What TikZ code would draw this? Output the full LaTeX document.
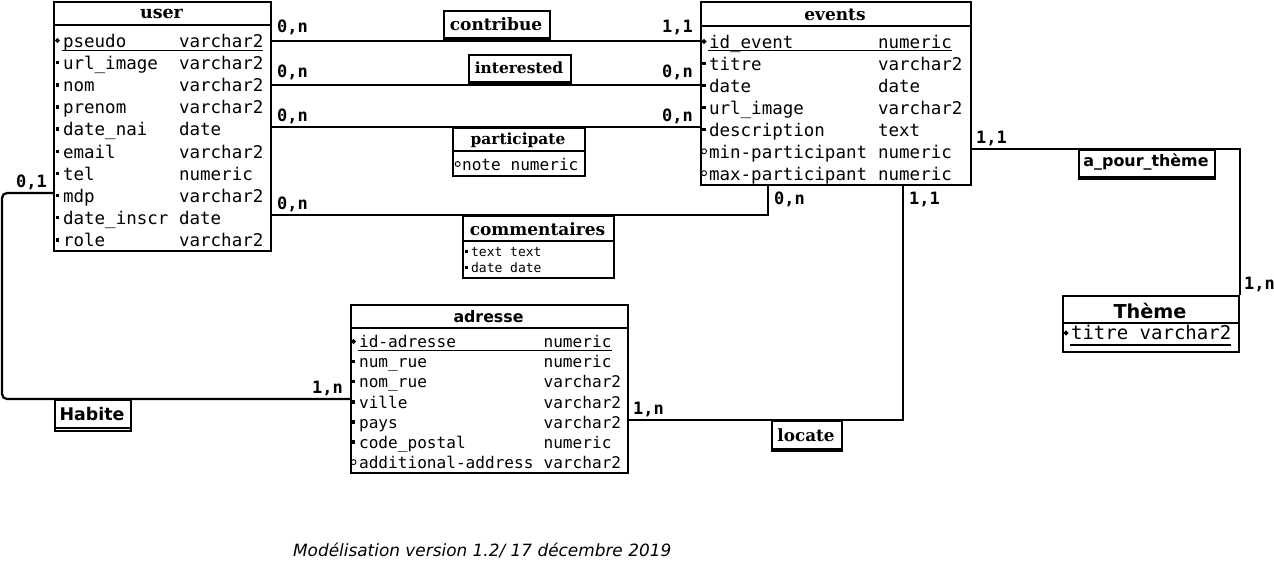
\documentclass[tikz,border=0pt]{standalone}
\usepackage{fontspec}
\setmainfont{DejaVu Serif}
\newfontfamily\monof{DejaVu Sans Mono}
\newfontfamily\sansf{DejaVu Sans}
\usetikzlibrary{shapes.geometric}
\begin{document}
\begin{tikzpicture}[x=1pt,y=-1pt,line width=2.2pt,
  ebox/.style={draw,line width=2.2pt,inner sep=0pt,anchor=north west},
  txt/.style={inner sep=0pt,anchor=base west},
  au/.style={txt,font=\fontsize{17.5}{20}\selectfont\monof},
  aa/.style={txt,font=\fontsize{16.1}{18}\selectfont\monof},
  ac/.style={txt,font=\fontsize{13}{15}\selectfont\monof},
  athm/.style={txt,font=\fontsize{19}{22}\selectfont\monof},
  card/.style={inner sep=0pt,font=\fontsize{17}{20}\selectfont\monof\bfseries},
  sert/.style={inner sep=0pt,font=\fontsize{#1}{20}\selectfont\bfseries},
  sant/.style={inner sep=0pt,font=\fontsize{#1}{20}\selectfont\sansf\bfseries},
  bm/.style={rectangle,fill,draw=none,inner sep=0pt,minimum size=3.5pt},
  bs/.style={rectangle,fill,draw=none,inner sep=0pt,minimum size=2.8pt},
  bk/.style={diamond,fill,draw=none,inner sep=0pt,minimum size=6pt},
  bo/.style={circle,draw,line width=0.9pt,inner sep=0pt,minimum size=5pt},
  dbl/.style={line width=1.6pt}]
\useasboundingbox (0,0) rectangle (1274,563);
\fill[white] (0,0) rectangle (1274,563);

% ---------- user ----------
\node[ebox,minimum width=217pt,minimum height=249pt] (user) at (53,1) {};
\draw (53,25) -- (270,25);
\node[sert=17.5] (usert) at (161.5,14) {user};
\foreach \nm/\ty/\bl [count=\i from 0] in {pseudo/varchar2/bk,url\_image/varchar2/bm,nom/varchar2/bm,prenom/varchar2/bm,date\_nai/date/bm,email/varchar2/bm,tel/numeric/bm,mdp/varchar2/bm,date\_inscr/date/bm,role/varchar2/bm}{
  \node[au] (un\i) at (62,{47.3+22.15*\i}) {\nm};
  \node[au] (ut\i) at (178,{47.3+22.15*\i}) {\ty};
  \node[\bl] (ub\i) at (57.3,{40.5+22.15*\i}) {};
}
\draw[line width=1.3pt] (62,50.7) -- (263,50.7);

% ---------- events ----------
\node[ebox,minimum width=270pt,minimum height=183pt] (events) at (700,1) {};
\draw (700,26) -- (970,26);
\node[sert=17] (eventst) at (835,15) {events};
\foreach \nm/\ty/\bl [count=\i from 0] in {id\_event/numeric/bk,titre/varchar2/bm,date/date/bm,url\_image/varchar2/bm,description/text/bm,min-participant/numeric/bo,max-participant/numeric/bo}{
  \node[au] (en\i) at (708,{48.3+21.95*\i}) {\nm};
  \node[au] (et\i) at (877,{48.3+21.95*\i}) {\ty};
  \node[\bl] (eb\i) at (704,{41.5+21.95*\i}) {};
}
\draw[line width=1.3pt] (708,50.7) -- (952,50.7);

% ---------- adresse ----------
\node[ebox,minimum width=277pt,minimum height=168pt] (adresse) at (350,304) {};
\draw (350,328) -- (627,328);
\node[sant=15.8] (adresset) at (488.5,317) {adresse};
\foreach \nm/\ty/\bl [count=\i from 0] in {id-adresse/numeric/bk,num\_rue/numeric/bm,nom\_rue/varchar2/bm,ville/varchar2/bm,pays/varchar2/bm,code\_postal/numeric/bm,additional-address/varchar2/bo}{
  \node[aa] (an\i) at (358,{347.7+20.1*\i}) {\nm};
  \node[aa] (aty\i) at (542.5,{347.7+20.1*\i}) {\ty};
  \node[\bl] (ab\i) at (353.5,{341.5+20.1*\i}) {};
}
\draw[line width=1.3pt] (358,350.2) -- (612,350.2);

% ---------- Theme ----------
\node[ebox,minimum width=176pt,minimum height=56pt] (theme) at (1062,295) {};
\draw (1062,323) -- (1238,323);
\node[sant=19.2] (themet) at (1150,310.5) {Thème};
\node[athm] (thn) at (1070,339) {titre varchar2};
\node[bk] (thb) at (1066,333) {};
\draw[line width=1.3pt] (1070,345) -- (1231,345);

% ---------- participate ----------
\node[ebox,minimum width=132pt,minimum height=48pt] (participate) at (452,127) {};
\draw (452,151) -- (584,151);
\node[sert=15.4] (participatet) at (518,140) {participate};
\node[aa] (pn) at (461,170) {note numeric};
\node[bo] (pb) at (457.7,164) {};

% ---------- commentaires ----------
\node[ebox,minimum width=151pt,minimum height=62pt] (commentaires) at (462,215) {};
\draw (462,241) -- (613,241);
\node[sert=17] (commentairest) at (537.5,229) {commentaires};
\node[ac] (cn1) at (470,256.7) {text text};
\node[ac] (cn2) at (470,272.7) {date date};
\node[bs] (cb1) at (466.7,251.5) {};
\node[bs] (cb2) at (466.7,267.5) {};

% ---------- relation boxes ----------
\node[ebox,minimum width=106pt,minimum height=29pt] (contribue) at (443,10) {};
\draw[dbl] ([yshift=3pt]contribue.south west) -- ([yshift=3pt]contribue.south east);
\node[sert=17] (contribuet) at (496,24) {contribue};

\node[ebox,minimum width=102pt,minimum height=29pt] (interested) at (468,54) {};
\draw[dbl] ([yshift=3pt]interested.south west) -- ([yshift=3pt]interested.south east);
\node[sert=15.4] (interestedt) at (519,68) {interested};

\node[ebox,minimum width=70pt,minimum height=30pt] (locate) at (771,420) {};
\draw[dbl] ([yshift=3.5pt]locate.south west) -- ([yshift=3.5pt]locate.south east);
\node[sert=16.8] (locatet) at (806,435) {locate};

\node[ebox,minimum width=136pt,minimum height=29pt] (apt) at (1078,149) {};
\draw[dbl] ([yshift=3.5pt]apt.south west) -- ([yshift=3.5pt]apt.south east);
\node[sant=15.9] (aptt) at (1146,162) {a\_pour\_thème};

\node[ebox,minimum width=76pt,minimum height=31pt] (habite) at (54,399) {};
\draw[dbl] ([yshift=4pt]habite.south west) -- ([yshift=4pt]habite.south east);
\node[sant=17.4] (habitet) at (92,414) {Habite};

% ---------- connectors ----------
\coordinate (evc) at (768,184);
\coordinate (evl) at (903,184);
\coordinate (uhab) at (53,193);
\coordinate (hbend) at (2,193);
\draw (user.east |- contribue.south) -- (events.west |- contribue.south);
\draw (user.east |- interested.south) -- (events.west |- interested.south);
\draw (user.east |- participate.north) -- (events.west |- participate.north);
\draw (user.east |- commentaires.north) -| (evc);
\draw (evl) |- (adresse.east |- locate.north);
\draw (events.east |- apt.north) -| (theme.north east);
\draw[rounded corners=5pt] (uhab) -- (hbend) -- (hbend |- habite.north) -- (adresse.west |- habite.north);

% ---------- cardinalities ----------
\node[card,anchor=base west] (c1) at (276,32) {0,n};
\node[card,anchor=base east] (c2) at (694,32) {1,1};
\node[card,anchor=base west] (c3) at (276,77) {0,n};
\node[card,anchor=base east] (c4) at (694,77) {0,n};
\node[card,anchor=base west] (c5) at (276,121) {0,n};
\node[card,anchor=base east] (c6) at (694,121) {0,n};
\node[card,anchor=base west] (c7) at (276,209) {0,n};
\node[card,anchor=base west] (c8) at (773,204) {0,n};
\node[card,anchor=base west] (c9) at (908,204) {1,1};
\node[card,anchor=base west] (c10) at (632,414) {1,n};
\node[card,anchor=base west] (c11) at (975,143) {1,1};
\node[card,anchor=base west] (c12) at (1243,289) {1,n};
\node[card,anchor=base west] (c13) at (15,187) {0,1};
\node[card,anchor=base east] (c14) at (344,393) {1,n};

% ---------- caption ----------
\node[txt,font=\fontsize{16.9}{20}\selectfont\sansf\itshape] (caption) at (292,556.5) {Modélisation version 1.2/ 17 décembre 2019};
\end{tikzpicture}
\end{document}
